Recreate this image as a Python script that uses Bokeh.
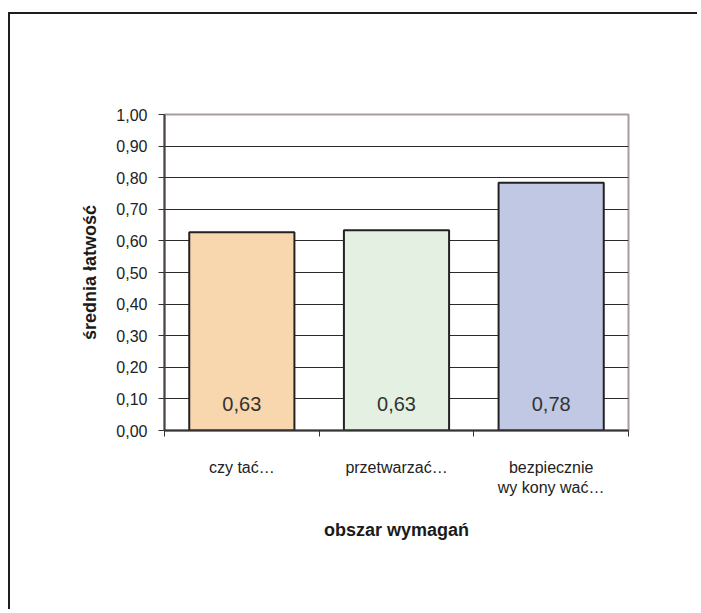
from bokeh.plotting import figure
from bokeh.models import Range1d, FixedTicker, ColumnDataSource
from bokeh.core.properties import value
from bokeh.embed import file_html
from bokeh.resources import INLINE

categories = ["czy tać…", "przetwarzać…", "bezpiecznie\nwy kony wać…"]
values = [0.627, 0.634, 0.784]
colors = ["#F8D6AE", "#E3F0E2", "#C0C8E3"]
y_ticks = [0.0, 0.1, 0.2, 0.3, 0.4, 0.5, 0.6, 0.7, 0.8, 0.9, 1.0]
y_tick_labels = ["0,00", "0,10", "0,20", "0,30", "0,40", "0,50", "0,60", "0,70", "0,80", "0,90", "1,00"]
value_labels = [f"{v:.2f}".replace(".", ",") for v in values]

FONT = "Liberation Sans"

x_pos = [i + 0.5 for i in range(len(categories))]

p = figure(width=689, height=597, output_backend="svg", toolbar_location=None,
           x_range=Range1d(0, len(categories)), y_range=Range1d(0, 1.0),
           min_border_left=154, min_border_right=71, min_border_top=100, min_border_bottom=181)
p.styles = {"margin-left": "8px", "margin-top": "12px",
            "border-left": "2px solid #1e1e1e", "border-top": "2px solid #1e1e1e"}
p.background_fill_color = "white"
p.border_fill_color = "white"
p.outline_line_color = "#A89C9C"
p.outline_line_width = 2

src = ColumnDataSource(dict(x=x_pos, top=values, color=colors, label=value_labels,
                            ly=[0.085] * len(values)))
p.vbar(x="x", top="top", bottom=0, width=0.68, fill_color="color", line_color="#222222",
       line_width=2, source=src)
p.text(x="x", y="ly", text="label", source=src, text_align="center", text_baseline="middle",
       text_font=value(FONT), text_font_size="20px", text_color="#333333")

# Y axis
p.yaxis.ticker = FixedTicker(ticks=y_ticks)
p.yaxis.major_label_overrides = {t: l for t, l in zip(y_ticks, y_tick_labels)}
p.yaxis.major_label_text_font = FONT
p.yaxis.major_label_text_font_size = "16px"
p.yaxis.major_label_text_color = "#222222"
p.yaxis.major_tick_out = 6
p.yaxis.major_tick_in = 0
p.yaxis.minor_tick_line_color = None
p.yaxis.major_label_standoff = 11
p.yaxis.axis_line_color = "#4A4242"
p.yaxis.axis_line_width = 2
p.yaxis.major_tick_line_color = "#333333"
p.yaxis.axis_label = "średnia łatwość"
p.yaxis.axis_label_text_font = FONT
p.yaxis.axis_label_text_font_style = "bold"
p.yaxis.axis_label_text_font_size = "18px"
p.yaxis.axis_label_text_color = "#1a1a1a"
p.yaxis.axis_label_standoff = 13

# X axis
p.xaxis.ticker = FixedTicker(ticks=x_pos, minor_ticks=list(range(len(categories) + 1)))
p.xaxis.major_label_overrides = {x: c for x, c in zip(x_pos, categories)}
p.xaxis.major_tick_out = 0
p.xaxis.major_tick_in = 0
p.xaxis.minor_tick_out = 6
p.xaxis.minor_tick_in = 0
p.xaxis.minor_tick_line_color = "#333333"
p.xaxis.major_label_text_font = FONT
p.xaxis.major_label_text_font_size = "16px"
p.xaxis.major_label_text_color = "#222222"
p.xaxis.major_label_standoff = 22
p.xaxis.axis_line_color = "#333333"
p.xaxis.axis_line_width = 2
p.xaxis.axis_label = "obszar wymagań"
p.xaxis.axis_label_text_font = FONT
p.xaxis.axis_label_text_font_style = "bold"
p.xaxis.axis_label_text_font_size = "18px"
p.xaxis.axis_label_text_color = "#1a1a1a"
p.xaxis.axis_label_standoff = 21

p.xgrid.grid_line_color = None
p.ygrid.ticker = FixedTicker(ticks=y_ticks[1:-1])
p.ygrid.grid_line_color = "#2a2a2a"
p.ygrid.grid_line_width = 1

open("out.html", "w").write(file_html(p, INLINE))
